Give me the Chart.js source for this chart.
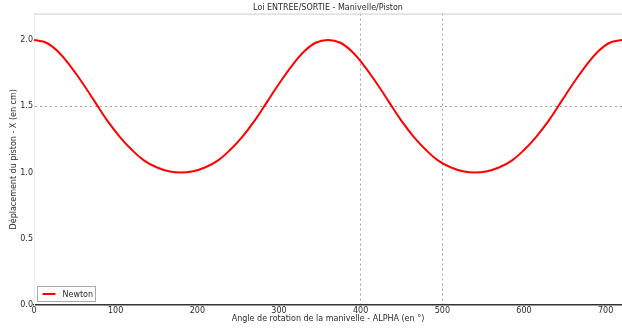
<!DOCTYPE html>
<html>
<head>
<meta charset="utf-8">
<script src="https://cdn.jsdelivr.net/npm/chart.js@4/dist/chart.umd.min.js"></script>
<style>
  html, body { margin: 0; padding: 0; background: #fff; }
  #wrap { width: 622px; height: 329px; }
</style>
</head>
<body>
<div id="wrap"><canvas id="pistonChart"></canvas></div>
<script>
// angle de la manivelle (deg) et deplacement du piston (cm)
const alpha = [0, 15, 30, 45, 60, 75, 90, 105, 120, 135, 150, 165, 180,
               195, 210, 225, 240, 255, 270, 285, 300, 315, 330, 345, 360,
               375, 390, 405, 420, 435, 450, 465, 480, 495, 510, 525, 540,
               555, 570, 585, 600, 615, 630, 645, 660, 675, 690, 705, 720];
const deplacement = [2.00, 1.98, 1.91, 1.80, 1.67, 1.53, 1.39, 1.27, 1.17, 1.09, 1.04, 1.01, 1.00,
                     1.01, 1.04, 1.09, 1.17, 1.27, 1.39, 1.53, 1.67, 1.80, 1.91, 1.98, 2.00,
                     1.98, 1.91, 1.80, 1.67, 1.53, 1.39, 1.27, 1.17, 1.09, 1.04, 1.01, 1.00,
                     1.01, 1.04, 1.09, 1.17, 1.27, 1.39, 1.53, 1.67, 1.80, 1.91, 1.98, 2.00];
const xGridAt = [400, 500];
const yGridAt = [1.5];

const FONT = 'DejaVu Sans';
const TXT = '#2a2a2a';

// cadre du haut + legende dans le coin bas gauche
const frameAndLegend = {
    id: 'frameAndLegend',
    afterDraw(chart) {
        const { ctx, chartArea } = chart;
        ctx.save();
        ctx.strokeStyle = '#cccccc';
        ctx.lineWidth = 1;
        ctx.beginPath();
        ctx.moveTo(chartArea.left, chartArea.top + 0.5);
        ctx.lineTo(chartArea.right, chartArea.top + 0.5);
        ctx.stroke();

        const ds = chart.data.datasets[0];
        const bx = chartArea.left + 3.5, by = chartArea.bottom - 18.5;
        ctx.fillStyle = '#fff';
        ctx.fillRect(bx, by, 58, 15);
        ctx.strokeStyle = '#aaaaaa';
        ctx.strokeRect(bx, by, 58, 15);
        ctx.strokeStyle = ds.borderColor;
        ctx.lineWidth = 2;
        ctx.beginPath();
        ctx.moveTo(bx + 5, by + 7.5);
        ctx.lineTo(bx + 18, by + 7.5);
        ctx.stroke();
        ctx.fillStyle = TXT;
        ctx.font = '8px "' + FONT + '"';
        ctx.textBaseline = 'middle';
        ctx.fillText(ds.label, bx + 25, by + 8);
        ctx.restore();
    }
};

new Chart(document.getElementById('pistonChart'), {
    type: 'line',
    data: {
        datasets: [{
            label: 'Newton',
            data: alpha.map((a, i) => ({ x: a, y: deplacement[i] })),
            borderColor: '#ff0000',
            borderWidth: 2,
            pointRadius: 0,
            tension: 0.4,
            fill: false
        }]
    },
    options: {
        responsive: true,
        maintainAspectRatio: false,
        animation: false,
        layout: { padding: 0 },
        plugins: {
            legend: { display: false },
            tooltip: { enabled: false },
            title: {
                display: true,
                text: 'Loi ENTREE/SORTIE - Manivelle/Piston',
                fullSize: false,
                color: TXT,
                font: { family: FONT, size: 8, weight: 'normal' },
                padding: { top: 3, bottom: 1 }
            }
        },
        scales: {
            x: {
                type: 'linear',
                min: 0,
                max: 720,
                afterFit(scale) { scale.height = 24; },
                ticks: {
                    stepSize: 100,
                    includeBounds: false,
                    padding: 1,
                    maxRotation: 0,
                    color: TXT,
                    font: { family: FONT, size: 8 }
                },
                grid: {
                    drawTicks: false,
                    lineWidth: 1,
                    color: ctx => xGridAt.includes(ctx.tick && ctx.tick.value) ? '#a0a0a0' : 'rgba(0,0,0,0)'
                },
                border: { color: '#333333', width: 1.5, dash: [2, 3] },
                title: {
                    display: true,
                    text: 'Angle de rotation de la manivelle - ALPHA (en °)',
                    color: TXT,
                    font: { family: FONT, size: 8 },
                    padding: { top: 0, bottom: 5 }
                }
            },
            y: {
                min: 0,
                max: 2.2,
                afterFit(scale) { scale.width = 34; },
                ticks: {
                    stepSize: 0.5,
                    includeBounds: false,
                    padding: 1,
                    color: TXT,
                    font: { family: FONT, size: 8 },
                    callback: v => v.toFixed(1)
                },
                grid: {
                    drawTicks: false,
                    lineWidth: 1,
                    color: ctx => yGridAt.includes(ctx.tick && ctx.tick.value) ? '#a0a0a0' : 'rgba(0,0,0,0)'
                },
                border: { color: '#eeeeee', width: 1, dash: [2, 3] },
                title: {
                    display: true,
                    text: 'Déplacement du piston - X (en cm)',
                    color: TXT,
                    font: { family: FONT, size: 8 },
                    padding: { top: 9, bottom: 0 }
                }
            }
        }
    },
    plugins: [frameAndLegend]
});
</script>
</body>
</html>
